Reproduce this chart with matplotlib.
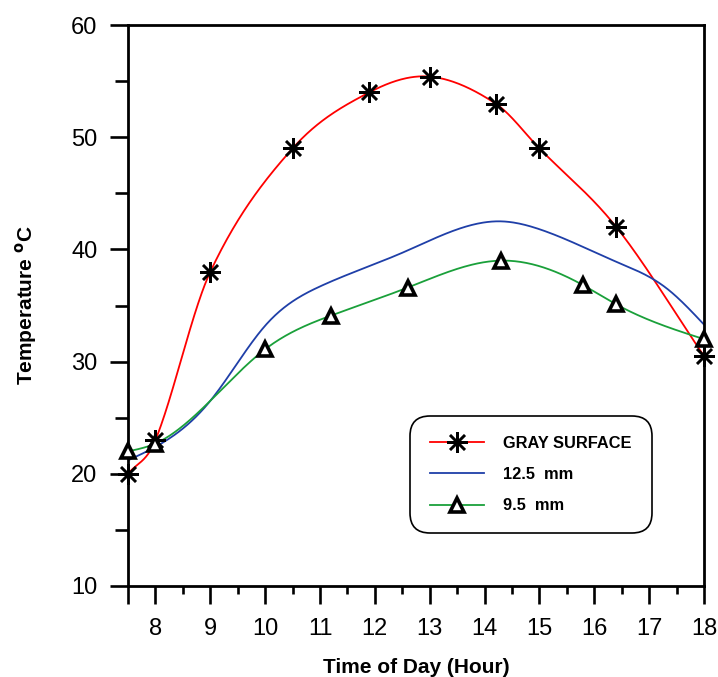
import numpy as np
import matplotlib
matplotlib.use("Agg")
import matplotlib.pyplot as plt
from matplotlib.lines import Line2D

plt.rcParams['font.family'] = ['Liberation Sans', 'DejaVu Sans']

# Data
gray_x = [7.5, 8.0, 9.0, 10.5, 11.9, 13.0, 14.2, 15.0, 16.4, 18.0]
gray_y = [20.0, 23.0, 38.0, 49.0, 54.0, 55.4, 53.0, 49.0, 42.0, 30.5]

mm125_x = [7.5, 8.0, 9.0, 10.0, 11.0, 12.5, 14.3, 15.0, 16.4, 17.3, 18.0]
mm125_y = [21.2, 22.4, 26.5, 33.2, 36.7, 39.7, 42.5, 41.8, 38.9, 36.6, 33.3]

mm95_x = [7.5, 8.0, 10.0, 11.2, 12.6, 14.3, 15.8, 16.4, 18.0]
mm95_y = [22.0, 22.7, 31.1, 34.1, 36.6, 39.0, 36.8, 35.1, 32.0]

labels = ["GRAY SURFACE", "12.5  mm", "9.5  mm"]
xticks = [7.5, 8, 9, 10, 11, 12, 13, 14, 15, 16, 17, 18]
xticklabels = ["", "8", "9", "10", "11", "12", "13", "14", "15", "16", "17", "18"]
yticks = [10, 20, 30, 40, 50, 60]


def hermite(x, y, n=60):
    """Cubic Hermite curve through the points (Catmull-Rom style tangents)."""
    x = np.asarray(x, float); y = np.asarray(y, float)
    m = len(x)
    t = np.zeros(m)
    t[0] = (y[1] - y[0]) / (x[1] - x[0])
    t[-1] = (y[-1] - y[-2]) / (x[-1] - x[-2])
    for i in range(1, m - 1):
        t[i] = (y[i + 1] - y[i - 1]) / (x[i + 1] - x[i - 1])
    xs_all, ys_all = [], []
    for i in range(m - 1):
        h = x[i + 1] - x[i]
        s = np.linspace(0, 1, n)
        h00 = 2 * s**3 - 3 * s**2 + 1
        h10 = s**3 - 2 * s**2 + s
        h01 = -2 * s**3 + 3 * s**2
        h11 = s**3 - s**2
        xs_all.append(x[i] + s * h)
        ys_all.append(h00 * y[i] + h10 * h * t[i] + h01 * y[i + 1] + h11 * h * t[i + 1])
    return np.concatenate(xs_all), np.concatenate(ys_all)


def natural_spline(x, y, n=400):
    x = np.asarray(x, float); y = np.asarray(y, float)
    m = len(x)
    h = np.diff(x)
    A = np.zeros((m, m)); b = np.zeros(m)
    A[0, 0] = 1; A[-1, -1] = 1
    for i in range(1, m - 1):
        A[i, i - 1] = h[i - 1]
        A[i, i] = 2 * (h[i - 1] + h[i])
        A[i, i + 1] = h[i]
        b[i] = 3 * ((y[i + 1] - y[i]) / h[i] - (y[i] - y[i - 1]) / h[i - 1])
    c = np.linalg.solve(A, b)
    xs = np.linspace(x[0], x[-1], n)
    idx = np.clip(np.searchsorted(x, xs) - 1, 0, m - 2)
    dx = xs - x[idx]
    bb = (y[idx + 1] - y[idx]) / h[idx] - h[idx] * (2 * c[idx] + c[idx + 1]) / 3
    d = (c[idx + 1] - c[idx]) / (3 * h[idx])
    ys = y[idx] + bb * dx + c[idx] * dx ** 2 + d * dx ** 3
    return xs, ys


fig = plt.figure(figsize=(7.18, 6.77), dpi=100)
ax = fig.add_axes([128 / 718, 1 - 586 / 677, 576 / 718, 561 / 677])

star = (8, 2, 0)
xs, ys = hermite(gray_x, gray_y)
ax.plot(xs, ys, color='#ff0000', lw=1.3, zorder=2)
ax.plot(gray_x, gray_y, linestyle='none', marker=star, ms=15, mew=1.8,
        color='black', zorder=4, clip_on=False)

xs, ys = natural_spline(mm125_x, mm125_y)
ax.plot(xs, ys, color='#1f3fa8', lw=1.3, zorder=2)

xs, ys = natural_spline(mm95_x, mm95_y)
ax.plot(xs, ys, color='#1aa03a', lw=1.3, zorder=2)
ax.plot(mm95_x, mm95_y, linestyle='none', marker='^', ms=10, mew=2.6,
        mfc='white', mec='black', zorder=4, clip_on=False)

h1 = Line2D([], [], color='#ff0000', lw=1.3, marker=star, ms=15, mew=1.8, mec='black')
h2 = Line2D([], [], color='#1f3fa8', lw=1.3)
h3 = Line2D([], [], color='#1aa03a', lw=1.3, marker='^', ms=10, mew=2.6, mfc='white', mec='black')
leg = ax.legend([h1, h2, h3], labels, loc='lower left',
                bbox_to_anchor=((410 - 128) / 576, (586 - 533) / 561),
                borderaxespad=0, prop={'weight': 'bold', 'size': 11.8},
                handlelength=3.3, handletextpad=1.2, labelspacing=1.0,
                borderpad=1.2, frameon=True, fancybox=True, numpoints=1)
fr = leg.get_frame()
fr.set_edgecolor('black'); fr.set_linewidth(1.2); fr.set_alpha(1)
fr.set_boxstyle('round,pad=0,rounding_size=1.2')

ax.set_xlim(7.5, 18)
ax.set_ylim(10, 60)
ax.set_xticks(xticks)
ax.set_xticklabels(xticklabels)
ax.set_xticks(np.arange(8.5, 18, 1.0), minor=True)
ax.set_yticks(yticks)
ax.set_yticks([15, 25, 35, 45, 55], minor=True)
ax.tick_params(axis='both', which='major', direction='out', length=13, width=1.9,
               labelsize=17)
ax.tick_params(axis='x', which='major', pad=10)
ax.tick_params(axis='y', which='major', pad=9)
ax.tick_params(axis='x', which='minor', direction='out', length=6, width=1.9)
ax.tick_params(axis='y', which='minor', direction='out', length=9.5, width=1.9)
for s in ax.spines.values():
    s.set_linewidth(2.0)

ax.set_xlabel('Time of Day (Hour)', fontsize=15, fontweight='bold', labelpad=13)
ax.set_ylabel('Temperature $^{\\mathbf{o}}$C', fontsize=15, fontweight='bold', labelpad=23)

fig.savefig('out.png', dpi=100)
